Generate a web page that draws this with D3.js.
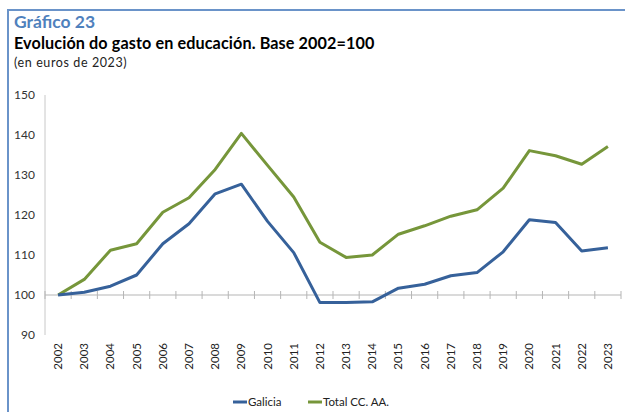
<!DOCTYPE html>
<html>
<head>
<meta charset="utf-8">
<script src="https://cdn.jsdelivr.net/npm/d3@7"></script>
<style>
  body { margin: 0; background: #fff; }
  svg { display: block; font-family: Lato, "Open Sans", sans-serif; }
</style>
</head>
<body>
<div id="grafico"></div>
<script>
// datos
var anos = ["2002","2003","2004","2005","2006","2007","2008","2009","2010","2011","2012",
  "2013","2014","2015","2016","2017","2018","2019","2020","2021","2022","2023"];
var galicia = [100, 100.7, 102.2, 105, 112.8, 117.8, 125.3, 127.7, 118.4, 110.6, 98.1,
  98.1, 98.3, 101.7, 102.7, 104.8, 105.6, 110.8, 118.8, 118.1, 111, 111.8];
var totalCCAA = [100, 103.9, 111.2, 112.8, 120.7, 124.3, 131.4, 140.4, 132.4, 124.5, 113.2,
  109.4, 110, 115.2, 117.3, 119.7, 121.3, 126.7, 136.1, 134.8, 132.7, 137.1];
var yTicks = [90, 100, 110, 120, 130, 140, 150];
var series = [
  {nome: "Galicia", valores: galicia, cor: "#36619a"},
  {nome: "Total CC. AA.", valores: totalCCAA, cor: "#76963a"}
];

var W = 625, H = 412;
var svg = d3.select("#grafico").append("svg").attr("width", W).attr("height", H);

// marco
svg.append("line").attr("x1", 8).attr("x2", W).attr("y1", 10).attr("y2", 10)
  .attr("stroke", "#6a93c9").attr("stroke-width", 2);
svg.append("line").attr("x1", 8).attr("x2", 8).attr("y1", 9).attr("y2", H)
  .attr("stroke", "#6a93c9").attr("stroke-width", 2);

// títulos
svg.append("text").attr("x", 14).attr("y", 28).text("Gráfico 23")
  .attr("font-size", 17.5).attr("font-weight", "bold").attr("fill", "#4f81bd");
svg.append("text").attr("x", 14).attr("y", 49).text("Evolución do gasto en educación. Base 2002=100")
  .attr("font-size", 16.2).attr("font-weight", "bold").attr("fill", "#000")
  .attr("letter-spacing", 0.1);
svg.append("text").attr("x", 14).attr("y", 67).text("(en euros de 2023)")
  .attr("font-size", 12.5).attr("fill", "#222").attr("letter-spacing", 0.6);

// escalas
var x0 = 45, x1 = 621;
var x = d3.scaleBand().domain(anos).range([x0, x1]);
var y = d3.scaleLinear().domain([90, 150]).range([335, 95]);
var cx = function(d) { return x(d) + x.bandwidth() / 2; };

// eixo Y
svg.append("line").attr("x1", x0).attr("x2", x0).attr("y1", y(150)).attr("y2", y(90))
  .attr("stroke", "#c8c8c8");
svg.selectAll(".ytick").data(yTicks).enter().append("text")
  .attr("x", 35).attr("y", function(d) { return y(d) + 4; })
  .attr("text-anchor", "end").attr("font-size", 12).attr("fill", "#333")
  .text(function(d) { return d; });

// eixo X (cruza en 100)
var gx = svg.append("g").attr("transform", "translate(0," + y(100) + ")");
gx.append("line").attr("x1", x0).attr("x2", x1).attr("stroke", "#b5b5b5");
var bordes = anos.map(function(d) { return x(d); }).concat([x1]);
gx.selectAll(".tick").data(bordes).enter().append("line")
  .attr("x1", function(d) { return d; }).attr("x2", function(d) { return d; })
  .attr("y1", -4).attr("y2", 4).attr("stroke", "#b5b5b5");

// etiquetas dos anos
svg.selectAll(".xlab").data(anos).enter().append("text")
  .attr("transform", function(d) { return "translate(" + (cx(d) + 4) + ",343) rotate(-90)"; })
  .attr("text-anchor", "end").attr("font-size", 11.5).attr("fill", "#222")
  .text(function(d) { return d; });

// liñas
var linha = d3.line().x(function(d, i) { return cx(anos[i]); }).y(function(d) { return y(d); });
series.slice().reverse().forEach(function(s) {
  svg.append("path").datum(s.valores).attr("d", linha)
    .attr("fill", "none").attr("stroke", s.cor).attr("stroke-width", 3)
    .attr("stroke-linejoin", "round");
});

// lenda
var lenda = [{x: 233}, {x: 308}];
series.forEach(function(s, i) {
  var g = svg.append("g").attr("transform", "translate(" + lenda[i].x + ",402)");
  g.append("line").attr("x1", 0).attr("x2", 14).attr("stroke", s.cor).attr("stroke-width", 3);
  g.append("text").attr("x", 15).attr("y", 4).attr("font-size", 11.5).attr("fill", "#222").text(s.nome);
});
</script>
</body>
</html>
